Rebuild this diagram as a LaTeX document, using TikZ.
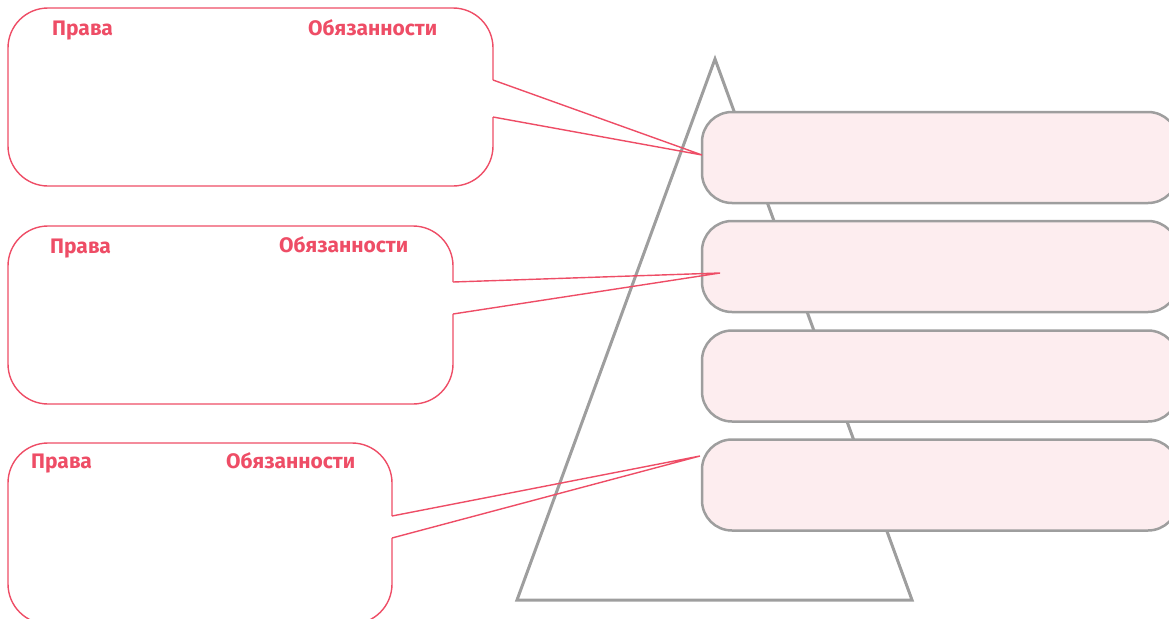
\documentclass[tikz,border=0pt]{standalone}
\usepackage{fontspec}
\setmainfont{Fira Sans}
\definecolor{rosered}{HTML}{EE4D66}
\definecolor{levelgray}{HTML}{9E9E9E}
\definecolor{levelpink}{HTML}{FDEDEF}
\tikzset{
	level/.style = {draw=levelgray, line width=2.5pt, fill=levelpink, rounded corners=30pt,
		minimum width=476pt, minimum height=91pt, inner sep=0pt},
	bubble/.style = {draw=rosered, line width=1.4pt},
	heading/.style = {text=rosered, font=\bfseries\fontsize{21}{24}\selectfont,
		anchor=base west, inner sep=0pt}
}

\begin{document}
\begin{tikzpicture}[x=1pt, y=-1pt]
		\useasboundingbox (0, 0) rectangle (1169, 618);
		\draw [levelgray, line width=3pt] (715, 59) -- (912, 600) -- (517, 600) -- cycle;
		\node [level] (lvl1) at (940, 157.5) {};
		\node [level] (lvl2) at (940, 266.5) {};
		\node [level] (lvl3) at (940, 376) {};
		\node [level] (lvl4) at (940, 485) {};
		\coordinate (tip1) at (702, 155);
		\coordinate (tip2) at (720, 273);
		\coordinate (tip4) at (700, 456);
		% first bubble
		\draw [bubble, rounded corners=40pt] (493, 80) -- (493, 8) -- (8, 8) -- (8, 186) -- (493, 186) -- (493, 117);
		\draw [bubble] (493, 80) -- (tip1) -- (493, 117);
		\node [heading] (rights1) at (52, 36) {Права};
		\node [heading] (duties1) at (308, 36) {Обязанности};
		% second bubble
		\draw [bubble, rounded corners=40pt] (453, 282) -- (453, 226) -- (8, 226) -- (8, 404) -- (453, 404) -- (453, 314);
		\draw [bubble] (453, 282) -- (tip2) -- (453, 314);
		\node [heading] (rights2) at (50, 253) {Права};
		\node [heading] (duties2) at (279, 252) {Обязанности};
		% third bubble
		\draw [bubble, rounded corners=40pt] (392, 516) -- (392, 443) -- (8, 443) -- (8, 624) -- (392, 624) -- (392, 538);
		\draw [bubble] (392, 516) -- (tip4) -- (392, 538);
		\node [heading] (rights3) at (31, 468) {Права};
		\node [heading] (duties3) at (226, 468) {Обязанности};
	\end{tikzpicture}
\end{document}
